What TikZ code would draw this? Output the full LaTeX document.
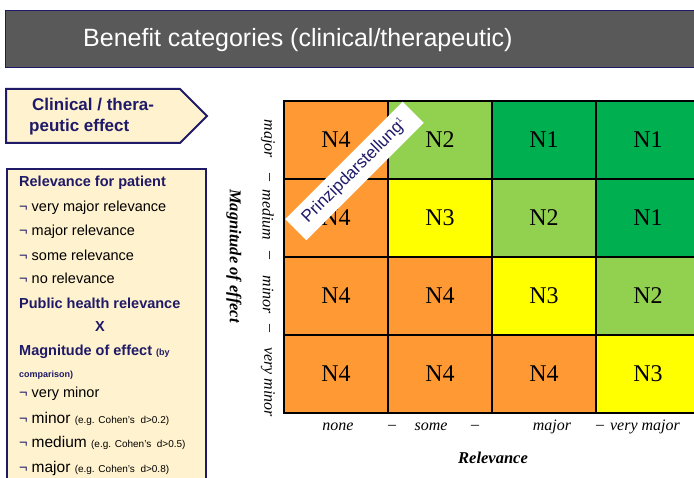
\documentclass[tikz,border=0pt]{standalone}
\usepackage{fontspec}
\setmainfont{Liberation Serif}
\setsansfont{Liberation Sans}
\definecolor{navy}{RGB}{31,26,104}
\definecolor{cream}{RGB}{255,242,206}
\definecolor{barGray}{RGB}{89,89,89}
\definecolor{cOrange}{RGB}{255,153,51}
\definecolor{cLight}{RGB}{146,208,80}
\definecolor{cDark}{RGB}{0,176,80}
\definecolor{cYellow}{RGB}{255,255,0}
\newcommand{\bul}{\textcolor{navy}{¬}\ }
\tikzset{
  cell/.style={draw=black, line width=1.2pt, minimum width=104pt, minimum height=78pt, inner sep=0pt, font=\fontsize{24}{24}\selectfont},
  lst/.style={anchor=west, inner sep=0pt, text=black, font=\sffamily\fontsize{14.5}{14.5}\selectfont},
  lsth/.style={anchor=west, inner sep=0pt, text=navy, font=\sffamily\bfseries\fontsize{14.5}{14.5}\selectfont},
  axlab/.style={inner sep=0pt, font=\itshape\fontsize{16}{16}\selectfont},
  axtitle/.style={inner sep=0pt, font=\bfseries\itshape\fontsize{16.5}{16.5}\selectfont},
}
\begin{document}
\begin{tikzpicture}[x=1pt,y=-1pt]
\useasboundingbox (0,0) rectangle (694,478);
\begin{scope}
\clip (0,0) rectangle (694,478);
% title bar
\draw[fill=barGray, draw=navy, line width=1pt] (5,11) rectangle (720,68);
\node[anchor=west, inner sep=0pt, text=white, font=\sffamily\fontsize{25}{25}\selectfont] (title) at (83,40) {Benefit categories (clinical/therapeutic)};
% arrow box
\draw[fill=cream, draw=navy, line width=2pt] (6,89) -- (180,89) -- (207,116) -- (180,143) -- (6,143) -- cycle;
\node[anchor=west, align=left, inner sep=0pt, text=navy, font=\sffamily\bfseries\fontsize{17}{21}\selectfont] (clin) at (29,117) {\hspace*{3pt}Clinical / thera-\\peutic effect};
% left box
\draw[fill=cream, draw=navy, line width=1.5pt] (7,169) rectangle (206,500);
\node[lsth] (h1) at (19,183) {Relevance for patient};
\node[lst] (a1) at (19,208) {\bul very major relevance};
\node[lst] (a2) at (19,232) {\bul major relevance};
\node[lst] (a3) at (19,255) {\bul some relevance};
\node[lst] (a4) at (19,278) {\bul no relevance};
\node[lsth] (h2) at (19,303) {Public health relevance};
\node[inner sep=0pt, text=navy, font=\sffamily\bfseries\fontsize{14.5}{14.5}\selectfont] (xx) at (100,327) {X};
\node[lsth] (h3) at (19,352) {Magnitude of effect {\fontsize{9}{9}\selectfont (by}};
\node[lsth, font=\sffamily\bfseries\fontsize{9}{9}\selectfont] (h4) at (19,375) {comparison)};
\node[lst] (b1) at (19,394) {\bul very minor};
\node[lst] (b2) at (19,419) {\bul \fontsize{15.5}{15.5}\selectfont minor {\fontsize{10}{10}\selectfont (e.g. Cohen's\ \ d>0.2)}};
\node[lst] (b3) at (19,443) {\bul \fontsize{15.5}{15.5}\selectfont medium {\fontsize{10}{10}\selectfont (e.g. Cohen's\ \ d>0.5)}};
\node[lst] (b4) at (19,468) {\bul \fontsize{15.5}{15.5}\selectfont major {\fontsize{10}{10}\selectfont (e.g. Cohen's\ \ d>0.8)}};
% grid
\node[cell, fill=cOrange] (r1c1) at (336,140) {N4};
\node[cell, fill=cLight]  (r1c2) at (440,140) {N2};
\node[cell, fill=cDark]   (r1c3) at (544,140) {N1};
\node[cell, fill=cDark]   (r1c4) at (648,140) {N1};
\node[cell, fill=cOrange] (r2c1) at (336,218) {N4};
\node[cell, fill=cYellow] (r2c2) at (440,218) {N3};
\node[cell, fill=cLight]  (r2c3) at (544,218) {N2};
\node[cell, fill=cDark]   (r2c4) at (648,218) {N1};
\node[cell, fill=cOrange] (r3c1) at (336,296) {N4};
\node[cell, fill=cOrange] (r3c2) at (440,296) {N4};
\node[cell, fill=cYellow] (r3c3) at (544,296) {N3};
\node[cell, fill=cLight]  (r3c4) at (648,296) {N2};
\node[cell, fill=cOrange] (r4c1) at (336,374) {N4};
\node[cell, fill=cOrange] (r4c2) at (440,374) {N4};
\node[cell, fill=cOrange] (r4c3) at (544,374) {N4};
\node[cell, fill=cYellow] (r4c4) at (648,374) {N3};
% label
\node[fill=white, rotate=45, minimum width=166pt, minimum height=30pt, inner sep=0pt, text=navy, font=\sffamily\fontsize{17}{17}\selectfont] (prinz) at (354.5,171) {Prinzipdarstellung\textsuperscript{\fontsize{8}{8}\selectfont 1}};
% y axis labels
\node[axlab, rotate=-90] (ymaj) at (268,139) {major};
\node[axlab, rotate=-90] (yd1) at (268,178) {--};
\node[axlab, rotate=-90] (ymed) at (268,215) {medium};
\node[axlab, rotate=-90] (yd2) at (268,256) {--};
\node[axlab, rotate=-90] (ymin) at (268,295) {minor};
\node[axlab, rotate=-90] (yd3) at (268,329) {--};
\node[axlab, rotate=-90] (yvmin) at (268,382) {very minor};
\node[axtitle, rotate=-90] (ytitle) at (234,256) {Magnitude of effect};
% x axis labels
\node[axlab] (xnone) at (338,427) {none};
\node[axlab] (xd1) at (392,427) {--};
\node[axlab] (xsome) at (431,427) {some};
\node[axlab] (xd2) at (475,427) {--};
\node[axlab] (xmaj) at (552,427) {major};
\node[axlab] (xd3) at (600,427) {--};
\node[axlab] (xvmaj) at (645,427) {very major};
\node[axtitle] (xtitle) at (493,458) {Relevance};
\end{scope}
\end{tikzpicture}
\end{document}
